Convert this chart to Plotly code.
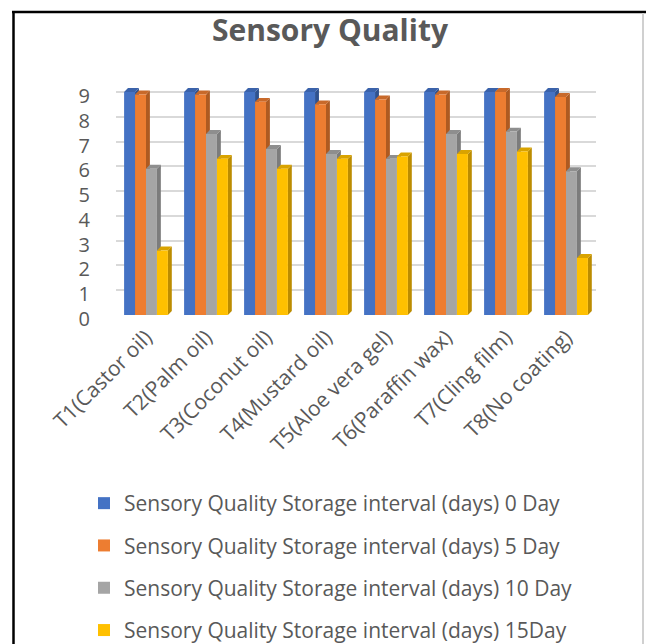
import plotly.graph_objects as go

# Treatments (x categories)
treatments = [
    "T1(Castor oil)", "T2(Palm oil)", "T3(Coconut oil)", "T4(Mustard oil)",
    "T5(Aloe vera gel)", "T6(Paraffin wax)", "T7(Cling film)", "T8(No coating)",
]

# Sensory quality score per storage interval
day0 = [9.0, 9.0, 9.0, 9.0, 9.0, 9.0, 9.0, 9.0]
day5 = [8.9, 8.9, 8.6, 8.5, 8.7, 8.9, 9.0, 8.8]
day10 = [5.9, 7.3, 6.7, 6.5, 6.3, 7.3, 7.4, 5.8]
day15 = [2.6, 6.3, 5.9, 6.3, 6.4, 6.5, 6.6, 2.3]

series_names = [
    "Sensory Quality Storage interval (days) 0 Day",
    "Sensory Quality Storage interval (days) 5 Day",
    "Sensory Quality Storage interval (days) 10 Day",
    "Sensory Quality Storage interval (days) 15Day",
]
y_ticks = [0, 1, 2, 3, 4, 5, 6, 7, 8, 9]

front_colors = ["#4472C4", "#ED7D31", "#A5A5A5", "#FFC000"]
side_colors = ["#2F528F", "#AE5A21", "#7C7C7C", "#BC8C00"]
top_colors = ["#3A62AA", "#C8692A", "#8E8E8E", "#D9A300"]

series = [day0, day5, day10, day15]
xs = list(range(len(treatments)))

BARGAP = 0.27
n_series = len(series)
bar_w = (1 - BARGAP) / n_series
depth_x = 0.065   # extrusion in category units
depth_y = 0.16    # extrusion in value units

text_col = "#595959"
font_family = "Open Sans, Liberation Sans, sans-serif"

fig = go.Figure()
for k, (name, vals) in enumerate(zip(series_names, series)):
    fig.add_trace(go.Bar(
        x=xs, y=vals, name=name, legendgroup=name,
        marker=dict(color=front_colors[k], line=dict(width=0)),
        hoverinfo="x+y",
    ))

# Side and top faces give each column a shallow 3-D extrusion
shapes = []
for k, vals in enumerate(series):
    for i, v in zip(xs, vals):
        left = i - (1 - BARGAP) / 2 + k * bar_w
        right = left + bar_w
        side = (f"M {right},0 L {right},{v} L {right + depth_x},{v + depth_y} "
                f"L {right + depth_x},{depth_y} Z")
        top = (f"M {left},{v} L {right},{v} L {right + depth_x},{v + depth_y} "
               f"L {left + depth_x},{v + depth_y} Z")
        shapes.append(dict(type="path", path=side, xref="x", yref="y",
                           fillcolor=side_colors[k], line=dict(width=0),
                           layer="between"))
        shapes.append(dict(type="path", path=top, xref="x", yref="y",
                           fillcolor=top_colors[k], line=dict(width=0),
                           layer="between"))

# Page geometry (pixels)
L_M, R_M, T_M, B_M = 116, 50, 87, 329
W, H = 646, 644
pw, ph = W - L_M - R_M, H - T_M - B_M


def px_x(px):
    return (px - L_M) / pw


def px_y(py):
    return (H - B_M - py) / ph


# Chart frame: dark top/left edges, light right edge
shapes += [
    dict(type="line", xref="paper", yref="paper", x0=px_x(13.5), x1=px_x(13.5),
         y0=px_y(12), y1=px_y(660), line=dict(color="#000000", width=2.5)),
    dict(type="line", xref="paper", yref="paper", x0=px_x(12), x1=px_x(646),
         y0=px_y(12), y1=px_y(12), line=dict(color="#000000", width=2.5)),
    dict(type="line", xref="paper", yref="paper", x0=px_x(643), x1=px_x(643),
         y0=px_y(13), y1=px_y(660), line=dict(color="#D0D0D0", width=2)),
]

fig.update_layout(
    width=W, height=H,
    margin=dict(l=L_M, r=R_M, t=T_M, b=B_M, autoexpand=False),
    paper_bgcolor="white", plot_bgcolor="white",
    barmode="group", bargap=BARGAP, bargroupgap=0,
    title=dict(text="<b>Sensory Quality</b>", x=330 / W, xref="container",
               xanchor="center", y=1 - 30 / H, yanchor="middle",
               font=dict(family=font_family, size=30, color=text_col)),
    font=dict(family=font_family, color=text_col),
    xaxis=dict(
        tickmode="array", tickvals=xs, ticktext=treatments,
        tickangle=-45, range=[-0.5, len(xs) - 0.5],
        tickfont=dict(size=21, color=text_col), ticklabelstandoff=5,
        showgrid=False, zeroline=False, showline=False, ticks="",
    ),
    yaxis=dict(
        range=[0, 9.2], tickmode="array", tickvals=y_ticks,
        tickfont=dict(size=20, color=text_col),
        showgrid=True, gridcolor="#D9D9D9", gridwidth=1.5,
        zeroline=False, showline=False, ticks="",
        ticklabelstandoff=25, ticklabelshift=4,
    ),
    legend=dict(
        orientation="v", x=px_x(84), xanchor="left",
        y=px_y(483), yanchor="top",
        font=dict(size=21, color=text_col), tracegroupgap=12,
        bgcolor="rgba(0,0,0,0)",
    ),
    shapes=shapes,
)

fig.write_html("out.html")
